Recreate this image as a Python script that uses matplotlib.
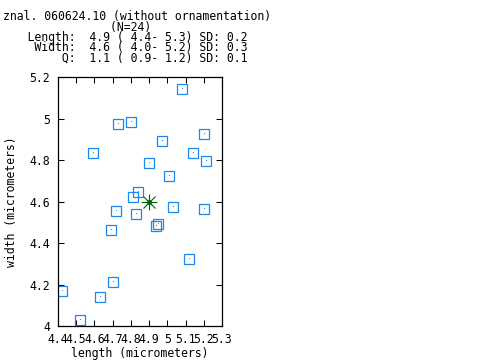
import matplotlib
matplotlib.use("Agg")
import matplotlib.pyplot as plt

# ---- data ----
length = [5.082, 4.731, 4.802, 4.594, 4.972, 5.203, 5.143, 5.214, 4.901, 5.011,
          4.841, 4.813, 4.720, 4.830, 5.033, 5.203, 4.950, 4.939, 4.693, 5.121,
          4.704, 4.424, 4.632, 4.522]
width = [5.141, 4.972, 4.982, 4.832, 4.890, 4.924, 4.832, 4.794, 4.784, 4.721,
         4.647, 4.620, 4.553, 4.538, 4.572, 4.562, 4.490, 4.480, 4.461, 4.321,
         4.211, 4.167, 4.138, 4.027]
mean_length = 4.9
mean_width = 4.6

x_ticks = [4.4, 4.5, 4.6, 4.7, 4.8, 4.9, 5.0, 5.1, 5.2, 5.3]
x_tick_labels = ["4.4", "4.5", "4.6", "4.7", "4.8", "4.9", "5", "5.1", "5.2", "5.3"]
y_ticks = [4.0, 4.2, 4.4, 4.6, 4.8, 5.0, 5.2]
y_tick_labels = ["4", "4.2", "4.4", "4.6", "4.8", "5", "5.2"]

header = [
    "znal. 060624.10 (without ornamentation)",
    "                (N=24)",
    "    Length:  4.9 ( 4.4- 5.3) SD: 0.2",
    "     Width:  4.6 ( 4.0- 5.2) SD: 0.3",
    "         Q:  1.1 ( 0.9- 1.2) SD: 0.1",
]

# ---- style ----
W, H = 480, 360
FONT = "DejaVu Sans Mono"
FS = 8.3
plt.rcParams["font.family"] = FONT
plt.rcParams["lines.antialiased"] = False

fig = plt.figure(figsize=(W / 100, H / 100), dpi=100)
fig.patch.set_facecolor("white")

L, R, T, B = 58, 222, 77, 326
ax = fig.add_axes([L / W, 1 - B / H, (R - L) / W, (B - T) / H])

blue = "#1a88f2"
ax.plot(length, width, linestyle="none", marker="s", markersize=7.4,
        markerfacecolor="none", markeredgecolor=blue, markeredgewidth=0.9)
ax.plot(length, width, linestyle="none", marker=",", color=blue)

green = "#006400"
ax.plot([mean_length], [mean_width], marker="+", markersize=11.5,
        markeredgewidth=0.8, color=green, linestyle="none")
ax.plot([mean_length], [mean_width], marker="x", markersize=8.2,
        markeredgewidth=0.8, color=green, linestyle="none")
ax.plot([mean_length], [mean_width], marker="o", markersize=2.5,
        color=green, linestyle="none")

ax.set_xlim(4.4, 5.3)
ax.set_ylim(4.0, 5.2)
ax.set_xticks(x_ticks)
ax.set_xticklabels(x_tick_labels)
ax.set_yticks(y_ticks)
ax.set_yticklabels(y_tick_labels)
ax.tick_params(direction="in", length=4, width=0.75, top=True, right=True,
               labelsize=FS, colors="black")
ax.tick_params(axis="x", pad=5)
ax.tick_params(axis="y", pad=5.5)
for sp in ax.spines.values():
    sp.set_linewidth(0.9)
    sp.set_color("black")

# axis labels
fig.text(12 / W, 1 - 201.5 / H, "width (micrometers)", rotation=90,
         ha="center", va="center", fontsize=FS)
fig.text(140 / W, 1 - 353 / H, "length (micrometers)",
         ha="center", va="center", fontsize=FS)

# header
ys = [16.5, 27, 37.5, 48, 58.5]
for i, (line, y) in enumerate(zip(header, ys)):
    x0 = 3 if i == 0 else 0
    fig.text(x0 / W, 1 - y / H, line, ha="left", va="center", fontsize=FS)

fig.savefig("out.png", dpi=100, facecolor="white")
